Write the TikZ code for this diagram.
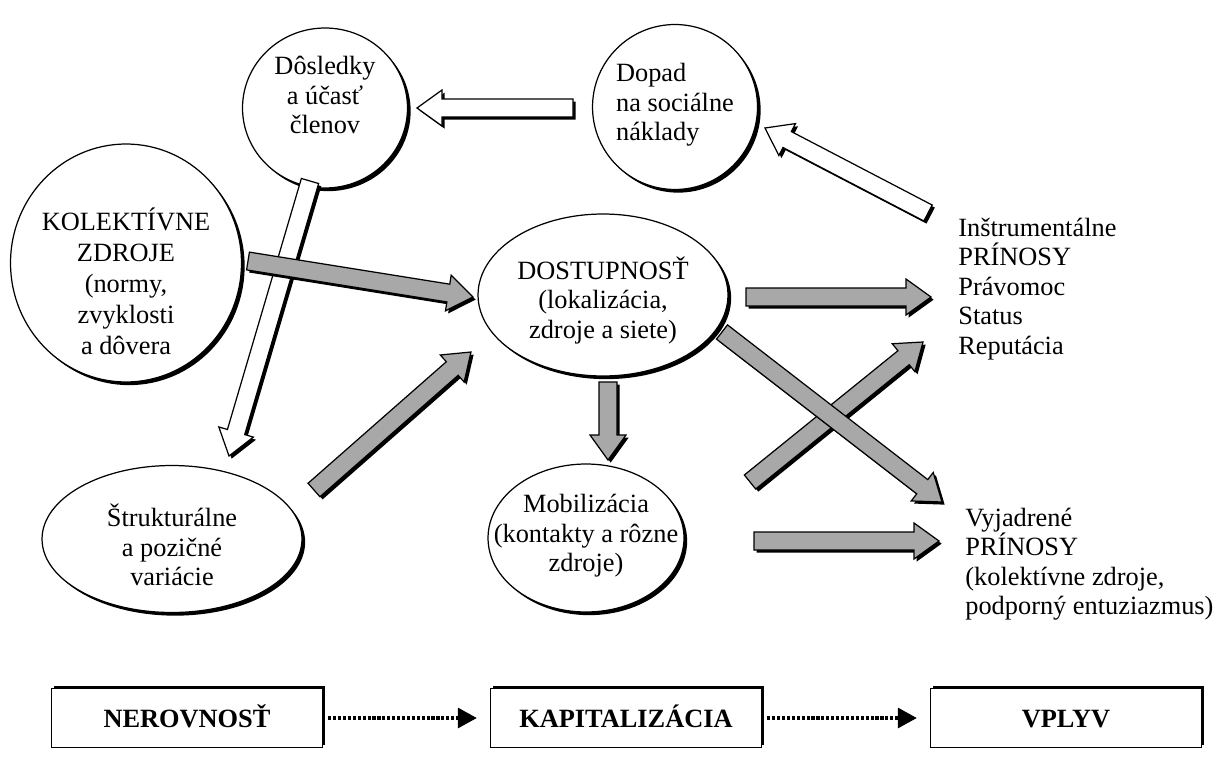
\documentclass[tikz,border=0pt]{standalone}
\usepackage{fontspec}
\setmainfont{Liberation Serif}
\usetikzlibrary{shapes.geometric,arrows.meta,calc,shadows,positioning}
\definecolor{arrowgray}{RGB}{168,168,168}
\tikzset
{
    txt/.style      = {font=\fontsize{15}{16.8}\selectfont, inner sep=0pt},
    widetxt/.style  = {font=\fontsize{15}{17.6}\selectfont, inner sep=0pt},
    bubble/.style   = {ellipse, draw=black, line width=0.7pt, fill=white, inner sep=0pt, drop shadow={shadow xshift=1.8pt, shadow yshift=-1.8pt, fill=black, opacity=1}},
    stagebox/.style = {rectangle, draw=black, line width=0.8pt, fill=white, minimum width=5.42cm, minimum height=1.18cm, text height=11pt, text depth=0pt, font=\fontsize{15}{16.8}\selectfont\bfseries, drop shadow={shadow xshift=1.4pt, shadow yshift=1.4pt, fill=black, opacity=1}},
    grayarrow/.style  = {fill=arrowgray, draw=black, line width=0.7pt, drop shadow={shadow xshift=1.5pt, shadow yshift=-1.5pt, fill=black, opacity=1}},
    whitearrow/.style = {grayarrow, fill=white},
    dotarrow/.style   = {densely dotted, line width=1.8pt, -{Triangle[length=0.38cm, width=0.4cm]}}
}
% block arrow from #2 to #3
\newcommand{\blockarrow}[3][grayarrow]{%
  \coordinate (hb) at ($(#3)!0.5cm!(#2)$);
  \filldraw[#1] ($(#2)!0.18cm!90:(#3)$) -- ($(hb)!0.18cm!-90:(#2)$) -- ($(hb)!0.36cm!-90:(#2)$)
    -- (#3) -- ($(hb)!0.36cm!90:(#2)$) -- ($(hb)!0.18cm!90:(#2)$) -- ($(#2)!0.18cm!-90:(#3)$) -- cycle;
}

\begin{document}
\begin{tikzpicture}[x=0.02cm, y=-0.02cm]
\useasboundingbox (0,0) rectangle (1229,767);

% circles and ellipses
\node[bubble, minimum width=3.3cm, minimum height=3.2cm] (dosl) at (325,108) {};
\node[txt, align=center] (dosl-t) at (325,95) {D\^osledky\\a účasť\\členov};
\node[bubble, minimum width=3.3cm, minimum height=3.3cm] (dopad) at (675,107) {};
\node[txt, align=left] (dopad-t) at (675,105) {Dopad\\na sociálne\\náklady};
\node[bubble, minimum width=4.62cm, minimum height=4.76cm] (kolekt) at (126,263) {};
\node[widetxt, align=center] (kolekt-t) at (126,281) {KOLEKTÍVNE\\ZDROJE\\(normy,\\zvyklosti\\a d\^overa};
\node[bubble, minimum width=5.0cm, minimum height=3.24cm] (dostup) at (603,295) {};
\node[txt, align=center] (dostup-t) at (603,300) {DOSTUPNOSŤ\\(lokalizácia,\\zdroje a siete)};
\node[bubble, minimum width=5.2cm, minimum height=2.94cm] (strukt) at (172,539) {};
\node[txt, align=center] (strukt-t) at (172,545) {Štrukturálne\\a pozičné\\variácie};
\node[bubble, minimum width=3.92cm, minimum height=2.96cm] (mobil) at (586,538) {};
\node[txt, align=center] (mobil-t) at (586,536) {Mobilizácia\\(kontakty a r\^ozne\\zdroje)};

% outcomes
\node[txt, align=left, anchor=west] (instr) at (958,289) {Inštrumentálne\\PRÍNOSY\\Právomoc\\Status\\Reputácia};
\node[txt, align=left, anchor=west] (vyjad) at (965,564) {Vyjadrené\\PRÍNOSY\\(kolektívne zdroje,\\podporný entuziazmus)};

% arrow ends
\coordinate (dopad-out) at (573,108);
\coordinate (dosl-in)   at (417,108);
\coordinate (instr-up)  at (928,213);
\coordinate (dopad-in)  at (765,128);
\coordinate (dosl-out)  at (310,181);
\coordinate (strukt-in) at (229,456);
\coordinate (kolekt-out) at (248,261);
\coordinate (dostup-in1) at (473,297);
\coordinate (strukt-out) at (314,490);
\coordinate (dostup-in2) at (471,352);
\coordinate (dostup-dn) at (608,382);
\coordinate (mobil-in)  at (608,460);
\coordinate (dostup-r)  at (746,297);
\coordinate (instr-in)  at (931,297);
\coordinate (dostup-dr) at (722,332);
\coordinate (vyjad-in1) at (942,502);
\coordinate (mobil-ur)  at (750,482);
\coordinate (instr-in2) at (923,342);
\coordinate (mobil-r)   at (754,541);
\coordinate (vyjad-in2) at (939,541);

% block arrows
\blockarrow[whitearrow]{dopad-out}{dosl-in}
\blockarrow[whitearrow]{instr-up}{dopad-in}
\blockarrow[whitearrow]{dosl-out}{strukt-in}
\blockarrow{kolekt-out}{dostup-in1}
\blockarrow{strukt-out}{dostup-in2}
\blockarrow{dostup-dn}{mobil-in}
\blockarrow{dostup-r}{instr-in}
\blockarrow{mobil-ur}{instr-in2}
\blockarrow{dostup-dr}{vyjad-in1}
\blockarrow{mobil-r}{vyjad-in2}

% stages
\node[stagebox] (nerov) at (187,718) {NEROVNOSŤ};
\node[stagebox] (kapit) at (626,718) {KAPITALIZÁCIA};
\node[stagebox] (vplyv) at (1066,718) {VPLYV};
\draw[dotarrow, shorten <=0.1cm, shorten >=0.26cm] (nerov) -- (kapit);
\draw[dotarrow, shorten <=0.1cm, shorten >=0.26cm] (kapit) -- (vplyv);
\end{tikzpicture}
\end{document}
